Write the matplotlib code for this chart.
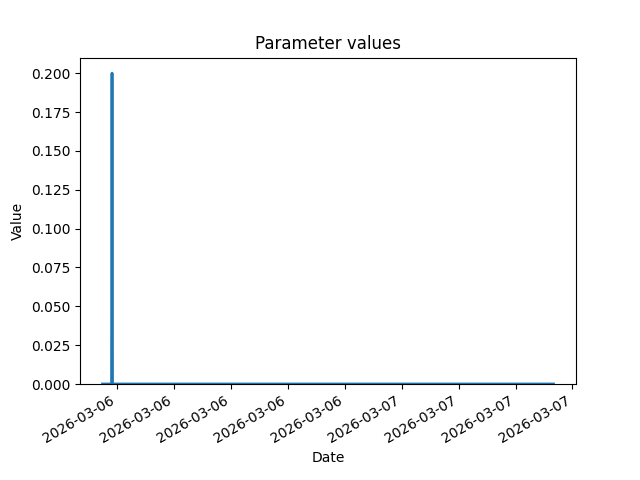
import pandas as pd
import matplotlib
matplotlib.use("Agg")
import matplotlib.pyplot as plt
import matplotlib.dates as mdates

# readings: flat at zero except for one short spike
dates = pd.to_datetime([
    "2026-03-06 08:14:00",
    "2026-03-06 08:42:30",
    "2026-03-06 08:44:00",
    "2026-03-06 08:45:30",
    "2026-03-07 08:00:00",
])
values = [0.0, 0.0, 0.2, 0.0, 0.0]

fig, ax = plt.subplots(figsize=(6.4, 4.8), dpi=100)
ax.plot(dates, values, linewidth=2)
ax.set_ylim(bottom=0)
ax.set_title("Parameter values")
ax.set_xlabel("Date")
ax.set_ylabel("Value")
ax.xaxis.set_major_formatter(mdates.DateFormatter("%Y-%m-%d"))
fig.autofmt_xdate()
fig.savefig("out.png")
